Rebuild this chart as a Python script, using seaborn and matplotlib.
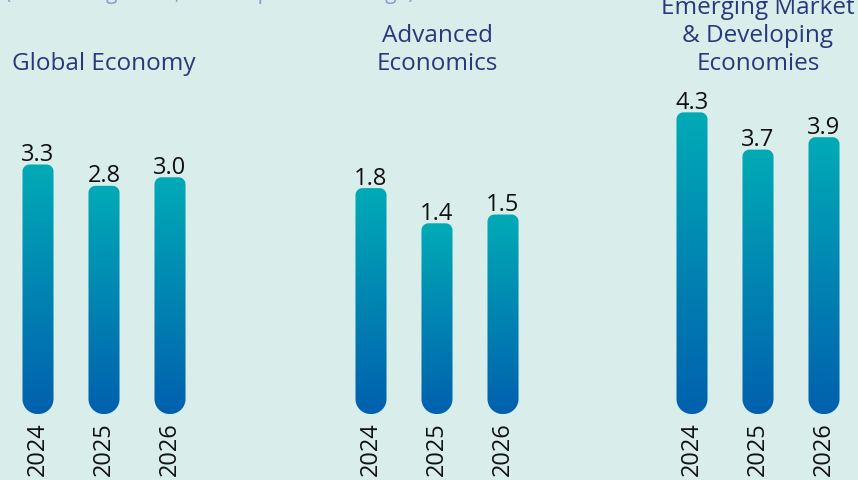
import numpy as np
import matplotlib
matplotlib.use("Agg")
import matplotlib.pyplot as plt
import seaborn as sns
import pandas as pd
from matplotlib.path import Path
from matplotlib.patches import PathPatch
from matplotlib.colors import LinearSegmentedColormap

# ---------------- data ----------------
group_titles = ["Global Economy", "Advanced\nEconomics",
                "Emerging Market\n& Developing\nEconomies"]
years = ["2024", "2025", "2026"]
global_vals = [3.3, 2.8, 3.0]
advanced_vals = [1.8, 1.4, 1.5]
emerging_vals = [4.3, 3.7, 3.9]
subtitle = "(Real GDP growth, annual percent change)"

# ---------------- style ----------------
sns.set_theme(style="white")
plt.rcParams['font.family'] = ['Open Sans', 'DejaVu Sans']

W, H = 858, 480
DPI = 100
fig = plt.figure(figsize=(W / DPI, H / DPI), dpi=DPI)
bg = "#D9EDEB"
fig.patch.set_facecolor(bg)

title_color = "#27397A"
cmap = LinearSegmentedColormap.from_list("bar", ["#0060AE", "#0085B2", "#00ABB6"])

# layout (pixels)
ax_lefts = [5, 338, 659]
ax_w = 198
ax_top, ax_bot = 90, 414
ylims = [(-2.56, 5.05), (-0.767, 2.915), (-0.557, 4.66)]
bar_width = 0.47
r_top, r_bot = 7.0, 15.0

series = [global_vals, advanced_vals, emerging_vals]


def rounded_path(x0, x1, y0, y1, rt, rb, n=20):
    pts = []
    for t in np.linspace(np.pi, 1.5 * np.pi, n):
        pts.append((x0 + rb + rb * np.cos(t), y0 + rb + rb * np.sin(t)))
    for t in np.linspace(1.5 * np.pi, 2 * np.pi, n):
        pts.append((x1 - rb + rb * np.cos(t), y0 + rb + rb * np.sin(t)))
    for t in np.linspace(0, 0.5 * np.pi, n):
        pts.append((x1 - rt + rt * np.cos(t), y1 - rt + rt * np.sin(t)))
    for t in np.linspace(0.5 * np.pi, np.pi, n):
        pts.append((x0 + rt + rt * np.cos(t), y1 - rt + rt * np.sin(t)))
    pts.append(pts[0])
    return np.array(pts)


grad = np.linspace(0, 1, 256).reshape(-1, 1)

for i, (vals, title) in enumerate(zip(series, group_titles)):
    left = ax_lefts[i] / W
    bottom = 1 - ax_bot / H
    height = (ax_bot - ax_top) / H
    ax = fig.add_axes([left, bottom, ax_w / W, height])
    df = pd.DataFrame({"year": years, "value": vals})
    sns.barplot(data=df, x="year", y="value", ax=ax, width=bar_width,
                color="#0085B2", errorbar=None)
    ax.set_xlim(-0.5, 2.5)
    ax.set_ylim(*ylims[i])
    ax.set_facecolor("none")
    for s in ax.spines.values():
        s.set_visible(False)
    ax.set_yticks([])
    ax.set_xlabel("")
    ax.set_ylabel("")
    ax.tick_params(axis="x", length=0, pad=6, labelsize=17, labelcolor="#111111")
    for lab in ax.get_xticklabels():
        lab.set_rotation(90)

    cont = ax.containers[0]
    ax.bar_label(cont, fmt="%.1f", padding=-1.8, fontsize=17, color="#111111")

    inv = ax.transData.inverted()
    for p in cont.patches:
        xa = p.get_x()
        xb = xa + p.get_width()
        top = p.get_y() + p.get_height()
        base = ylims[i][0]
        (dx0, dy0) = ax.transData.transform((xa, base))
        (dx1, dy1) = ax.transData.transform((xb, top))
        pts = rounded_path(dx0, dx1, dy0, dy1, r_top, min(r_bot, (dx1 - dx0) / 2))
        dpts = inv.transform(pts)
        patch = PathPatch(Path(dpts), facecolor="none", edgecolor="none")
        ax.add_patch(patch)
        im = ax.imshow(grad, cmap=cmap, extent=[xa, xb, base, top],
                       origin="lower", aspect="auto", zorder=2)
        im.set_clip_path(patch)
        p.set_visible(False)
    ax.set_xlim(-0.5, 2.5)
    ax.set_ylim(*ylims[i])

    ax.annotate(title, xy=(0.5, 1.0), xycoords="axes fraction",
                xytext=(0, 10), textcoords="offset points",
                ha="center", va="bottom", fontsize=17.5, color=title_color,
                linespacing=1.22, annotation_clip=False)

fig.text(5 / W, 1 + 1.5 / H, subtitle, ha="left", va="baseline",
         fontsize=15, color="#8E9CD2")

fig.savefig("out.png", dpi=DPI, facecolor=bg)
